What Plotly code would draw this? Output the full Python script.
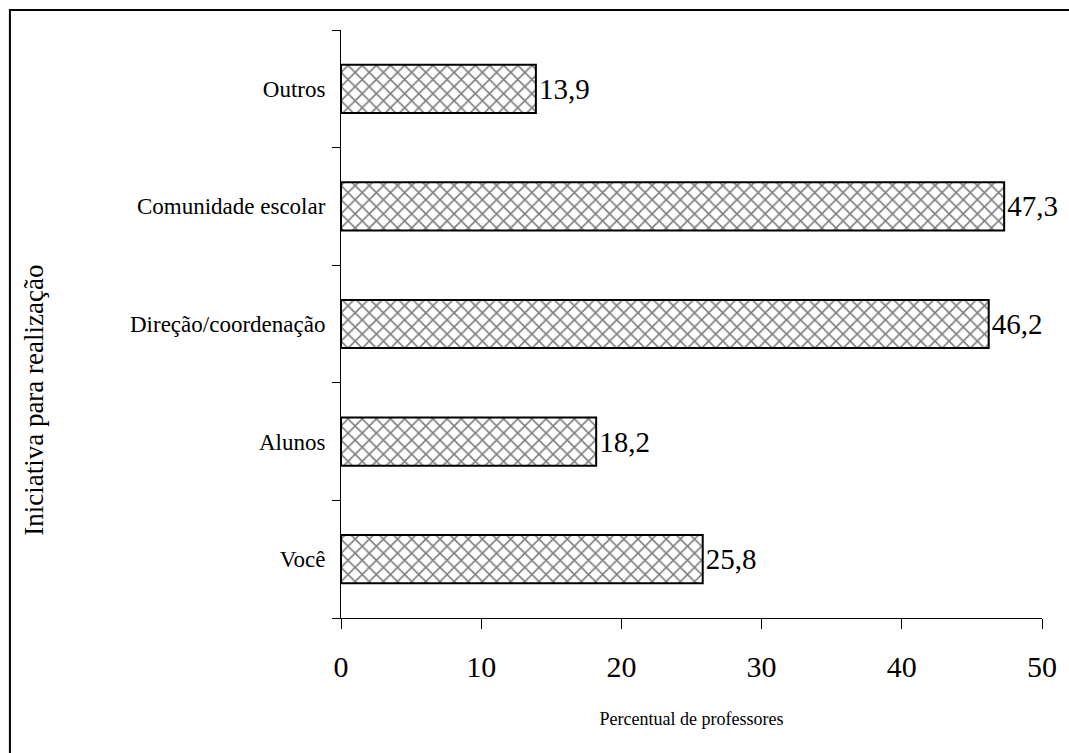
import plotly.graph_objects as go

categorias = ["Você", "Alunos", "Direção/coordenação", "Comunidade escolar", "Outros"]
percentuais = [25.8, 18.2, 46.2, 47.3, 13.9]
rotulos = ["25,8", "18,2", "46,2", "47,3", "13,9"]
ticks_x = [0, 10, 20, 30, 40, 50]

serif = "Liberation Serif, Times New Roman, serif"

fig = go.Figure(
    go.Bar(
        x=percentuais,
        y=categorias,
        orientation="h",
        text=rotulos,
        textposition="outside",
        textfont=dict(family=serif, size=29, color="black"),
        cliponaxis=False,
        marker=dict(
            color="white",
            line=dict(color="black", width=2),
            pattern=dict(shape="x", fgcolor="black", bgcolor="white", size=10, solidity=0.3),
        ),
    )
)

fig.update_layout(
    width=1069,
    height=753,
    margin=dict(l=341, r=25, t=30, b=135),
    paper_bgcolor="white",
    plot_bgcolor="white",
    bargap=0.59,
    showlegend=False,
    font=dict(family=serif, color="black"),
    xaxis=dict(
        range=[0, 50],
        tickvals=ticks_x,
        ticktext=[str(v) for v in ticks_x],
        showgrid=False,
        zeroline=False,
        showline=True,
        linecolor="black",
        linewidth=1,
        ticks="outside",
        ticklen=10,
        tickcolor="black",
        tickfont=dict(family=serif, size=30),
        ticklabelstandoff=12,
        title=dict(text="Percentual de professores", font=dict(family=serif, size=18), standoff=30),
    ),
    yaxis=dict(
        type="category",
        categoryorder="array",
        categoryarray=categorias,
        tickson="boundaries",
        showgrid=False,
        zeroline=False,
        showline=True,
        linecolor="black",
        linewidth=1,
        ticks="outside",
        ticklen=8,
        tickcolor="black",
        tickfont=dict(family=serif, size=23),
        ticklabelstandoff=10,
    ),
    annotations=[
        dict(
            text="Iniciativa para realização",
            xref="paper", yref="paper",
            x=-0.438, y=0.371,
            xanchor="center", yanchor="middle",
            textangle=-90, showarrow=False,
            font=dict(family=serif, size=27, color="black"),
        )
    ],
    shapes=[
        dict(
            type="rect", xref="paper", yref="paper",
            x0=-0.4723, x1=1.2, y0=-0.4, y1=1.034,
            line=dict(color="black", width=2), fillcolor="rgba(0,0,0,0)", layer="below",
        )
    ],
)

fig.write_html("out.html")
